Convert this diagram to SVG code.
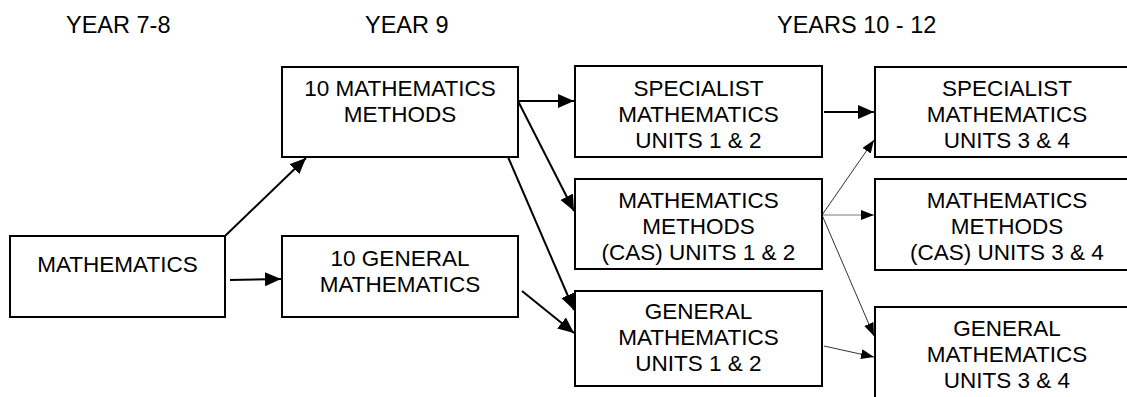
<svg xmlns="http://www.w3.org/2000/svg" width="1127" height="397" viewBox="0 0 1127 397">
<style>
.box{fill:#fff;stroke:#000;stroke-width:2}
.t{font-family:"Liberation Sans",Arial,sans-serif;font-size:22.5px;fill:#000;text-anchor:middle}
.h{font-family:"Liberation Sans",Arial,sans-serif;font-size:23.5px;fill:#000}
.c{fill:none;stroke:#000;stroke-width:2;marker-end:url(#ah)}
.cn{fill:none;stroke:#333;stroke-width:1;marker-end:url(#as)}
</style>
<defs>
<marker id="ah" markerUnits="userSpaceOnUse" markerWidth="17" markerHeight="15" refX="16" refY="7" orient="auto">
<path d="M0,0 L16,7 L0,14 z" fill="#000"/>
</marker>
<marker id="as" markerUnits="userSpaceOnUse" markerWidth="14" markerHeight="11" refX="13" refY="5" orient="auto">
<path d="M0,0 L13,5 L0,10 z" fill="#000"/>
</marker>
</defs>
<rect width="1127" height="397" fill="#fff"/>
<g id="headers">
<text class="h" x="66" y="33">YEAR 7-8</text>
<text class="h" x="365" y="33">YEAR 9</text>
<text class="h" x="777" y="33">YEARS 10 - 12</text>
</g>
<g id="connectors">
<line class="c" x1="225" y1="236" x2="306" y2="158"/>
<line class="c" x1="230" y1="280" x2="281" y2="279"/>
<line class="c" x1="518" y1="101" x2="574" y2="101"/>
<line class="c" x1="518" y1="101" x2="574" y2="211"/>
<line class="c" x1="508" y1="157" x2="574" y2="310"/>
<line class="c" x1="522" y1="291" x2="574" y2="333"/>
<line class="c" x1="824" y1="112" x2="874" y2="112"/>
<line class="cn" x1="822" y1="215" x2="874" y2="140"/>
<line class="cn" x1="822" y1="215" x2="874" y2="215" style="stroke:#777"/>
<line class="cn" x1="822" y1="215" x2="874" y2="336"/>
<line class="cn" x1="824" y1="346" x2="874" y2="357"/>
</g>
<g id="mathematics">
<rect class="box" x="10" y="236" width="215" height="81"/>
<text class="t" x="117.5" y="272">MATHEMATICS</text>
</g>
<g id="ten-methods">
<rect class="box" x="282" y="67" width="236" height="90"/>
<text class="t" x="400" y="96">10 MATHEMATICS</text>
<text class="t" x="400" y="122">METHODS</text>
</g>
<g id="ten-general">
<rect class="box" x="282" y="236" width="236" height="81"/>
<text class="t" x="400" y="266">10 GENERAL</text>
<text class="t" x="400" y="292">MATHEMATICS</text>
</g>
<g id="specialist-12">
<rect class="box" x="575" y="66" width="247" height="91"/>
<text class="t" x="698.5" y="96">SPECIALIST</text>
<text class="t" x="698.5" y="122">MATHEMATICS</text>
<text class="t" x="698.5" y="148">UNITS 1 &amp; 2</text>
</g>
<g id="methods-12">
<rect class="box" x="575" y="179" width="247" height="90"/>
<text class="t" x="698.5" y="208">MATHEMATICS</text>
<text class="t" x="698.5" y="234">METHODS</text>
<text class="t" x="698.5" y="260">(CAS) UNITS 1 &amp; 2</text>
</g>
<g id="general-12">
<rect class="box" x="575" y="291" width="247" height="95"/>
<text class="t" x="698.5" y="319">GENERAL</text>
<text class="t" x="698.5" y="345">MATHEMATICS</text>
<text class="t" x="698.5" y="371">UNITS 1 &amp; 2</text>
</g>
<g id="specialist-34">
<rect class="box" x="875" y="67" width="264" height="90"/>
<text class="t" x="1007" y="96">SPECIALIST</text>
<text class="t" x="1007" y="122">MATHEMATICS</text>
<text class="t" x="1007" y="148">UNITS 3 &amp; 4</text>
</g>
<g id="methods-34">
<rect class="box" x="875" y="179" width="264" height="91"/>
<text class="t" x="1007" y="208">MATHEMATICS</text>
<text class="t" x="1007" y="234">METHODS</text>
<text class="t" x="1007" y="260">(CAS) UNITS 3 &amp; 4</text>
</g>
<g id="general-34">
<rect class="box" x="875" y="307" width="264" height="100"/>
<text class="t" x="1007" y="336">GENERAL</text>
<text class="t" x="1007" y="362">MATHEMATICS</text>
<text class="t" x="1007" y="388">UNITS 3 &amp; 4</text>
</g>
</svg>
